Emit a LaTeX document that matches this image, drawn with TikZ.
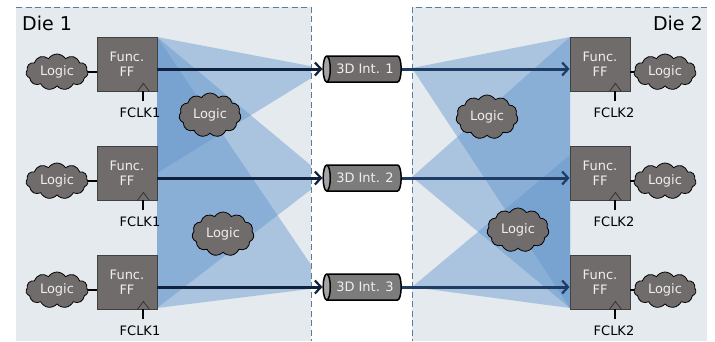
\documentclass[tikz,border=0pt]{standalone}
\usepackage{fontspec}
\setmainfont{DejaVu Sans}
\usetikzlibrary{shapes.symbols,shapes.geometric,arrows.meta}
\definecolor{diebg}{RGB}{228,234,238}
\definecolor{dieline}{RGB}{90,125,155}
\definecolor{ffgray}{RGB}{112,108,108}
\definecolor{intgray}{RGB}{125,124,124}
\definecolor{intend}{RGB}{165,163,163}
\definecolor{fanblue}{RGB}{100,150,205}
\definecolor{arrnavy}{RGB}{16,34,62}
\definecolor{arrblue}{RGB}{30,60,100}
\definecolor{txtw}{RGB}{238,238,238}
\begin{document}
\begin{tikzpicture}[x=1pt,y=-1pt,
  lbl/.style={font=\fontsize{13}{15}\selectfont},
  ffbox/.style={lbl, draw=black!75, line width=0.8pt, fill=ffgray, minimum width=60pt, minimum height=54pt, inner sep=0pt, text=txtw, align=center},
  logic/.style={lbl, cloud, cloud puffs=11, cloud puff arc=115, aspect=1.7, draw=black, line width=0.8pt, fill=ffgray, text=txtw, inner sep=0pt, minimum width=62pt, minimum height=36pt},
  midlogic/.style={logic, aspect=1.45, minimum height=44pt},
  intc/.style={lbl, cylinder, shape border rotate=180, aspect=0.6, draw=black, line width=1.5pt, cylinder uses custom fill, cylinder body fill=#1, cylinder end fill=intend, minimum height=78pt, minimum width=26pt, inner sep=1pt, text=txtw},
  fan/.style={fill=fanblue, fill opacity=0.45},
  sig/.style={draw=arrnavy, line width=3pt, -{Straight Barb[length=6pt,width=13pt,line width=2.2pt]}},
  clk/.style={draw=black, line width=2pt},
  clktri/.style={draw=black!80, line width=0.8pt},
  clklabel/.style={lbl, text=black, inner sep=0pt},
  dieedge/.style={draw=dieline, line width=0.8pt, dash pattern=on 6pt off 3.5pt},
  dietitle/.style={font=\fontsize{19}{22}\selectfont, text=black, inner sep=0pt}
]
\useasboundingbox (0,0) rectangle (715,341);
% dies
\fill[diebg] (16,7) rectangle (311,341);
\fill[diebg] (412,7) rectangle (707,341);
\draw[dieedge] (16,7) -- (311,7) -- (311,341);
\draw[dieedge] (707,7) -- (412,7) -- (412,341);
\node[dietitle, anchor=base west] (d1) at (22,30) {Die 1};
\node[dietitle, anchor=base east] (d2) at (703,30) {Die 2};
% fans
\begin{scope}
\clip (16,7) rectangle (311,341);
\fill[fan] (326,69) -- (157,37) -- (157,173) -- cycle;
\fill[fan] (326,178) -- (157,37) -- (157,308) -- cycle;
\fill[fan] (326,287) -- (157,37) -- (157,308) -- cycle;
\end{scope}
\begin{scope}
\clip (412,7) rectangle (707,341);
\fill[fan] (412,68) -- (570,37) -- (570,308) -- cycle;
\fill[fan] (412,177) -- (570,37) -- (570,308) -- cycle;
\fill[fan] (412,287) -- (570,155) -- (570,308) -- cycle;
\end{scope}
% FFs
\foreach \i/\y in {1/64,2/173,3/282}{
  \node[ffbox] (ffL\i) at (127,\y) {Func.\\FF};
  \node[ffbox] (ffR\i) at (600,\y) {Func.\\FF};
  \node[logic] (lL\i) at (57,\y+8) {Logic};
  \node[logic] (lR\i) at (665,\y+8) {Logic};
  \draw[line width=1.8pt] (lL\i.east) -- (lL\i.east -| ffL\i.west);
  \draw[line width=1.8pt] (lR\i.west) -- (lR\i.west -| ffR\i.east);
  \draw[clktri] ([xshift=-20pt]ffL\i.south east) -- ++(6pt,8pt) -- ++(6pt,-8pt);
  \draw[clktri] ([xshift=-21pt]ffR\i.south east) -- ++(6pt,8pt) -- ++(6pt,-8pt);
  \node[clklabel] (fcL\i) at (140,\y+49) {FCLK1};
  \node[clklabel] (fcR\i) at (614,\y+49) {FCLK2};
  \draw[clk] ([xshift=16pt]ffL\i.south) -- ++(0,-10pt);
  \draw[clk] ([xshift=15pt]ffR\i.south) -- ++(0,-10pt);
}
% middle logic
\node[midlogic] (m1) at (210,115) {Logic};
\node[midlogic] (m2) at (223,234) {Logic};
\node[midlogic] (m3) at (487,117) {Logic};
\node[midlogic] (m4) at (518,230) {Logic};
% interconnects
\node[intc=ffgray] (int1) at (365,69) {3D Int. 1};
\node[intc=intgray] (int2) at (365,178) {3D Int. 2};
\node[intc=intgray] (int3) at (365,287) {3D Int. 3};
\foreach \i in {1,2,3}{
  \draw[sig] (int\i.west -| ffL\i.east) -- (int\i.west);
  \draw[sig, draw=arrblue] (int\i.east) -- (int\i.east -| ffR\i.west);
}
\end{tikzpicture}
\end{document}
